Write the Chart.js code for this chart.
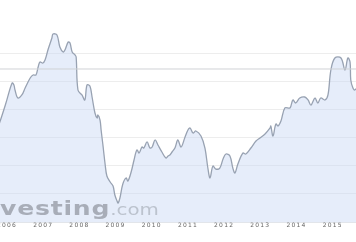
<!DOCTYPE html>
<html>
<head>
<meta charset="utf-8">
<script src="https://cdn.jsdelivr.net/npm/chart.js@4.4.1/dist/chart.umd.min.js"></script>
<style>
    html, body { margin: 0; padding: 0; background: #fff; }
    #box { position: relative; width: 356px; height: 242px; overflow: hidden; background: #fff; }
    #wrap { position: absolute; left: -40px; top: 0; width: 436px; height: 242px; }
    #mark {
        position: absolute; left: 0; top: 199px; white-space: nowrap;
        transform: scaleX(1.32); transform-origin: 0 0;
        font-family: "DejaVu Sans", sans-serif; line-height: 1; pointer-events: none;
    }
    #mark b { font-size: 19px; font-weight: bold; color: rgba(150, 155, 165, 0.78); letter-spacing: 0.6px; }
    #mark span { font-size: 15px; color: rgba(170, 176, 186, 0.7); }
</style>
</head>
<body>
<div id="box">
    <div id="wrap"><canvas id="chart" width="436" height="242"></canvas></div>
    <div id="mark"><b>vesting</b><span>.com</span></div>
</div>
<script>
// Index level (decimal years)
const years = [2005.67, 2005.81, 2005.97, 2006.14, 2006.19, 2006.22, 2006.30, 2006.41, 2006.50, 2006.64,
    2006.72, 2006.80, 2006.86, 2006.91, 2006.99, 2007.05, 2007.13, 2007.24, 2007.27, 2007.38,
    2007.46, 2007.55, 2007.60, 2007.69, 2007.74, 2007.80, 2007.88, 2007.91, 2007.96, 2008.07,
    2008.15, 2008.21, 2008.29, 2008.35, 2008.43, 2008.49, 2008.51, 2008.57, 2008.60, 2008.65,
    2008.71, 2008.76, 2008.85, 2008.93, 2008.98, 2009.04, 2009.07, 2009.12, 2009.20, 2009.29,
    2009.34, 2009.43, 2009.51, 2009.59, 2009.65, 2009.73, 2009.78, 2009.87, 2009.95, 2010.01,
    2010.09, 2010.17, 2010.28, 2010.39, 2010.45, 2010.50, 2010.56, 2010.64, 2010.72, 2010.81,
    2010.92, 2011.00, 2011.06, 2011.14, 2011.22, 2011.36, 2011.47, 2011.55, 2011.61, 2011.69,
    2011.77, 2011.88, 2011.97, 2012.05, 2012.16, 2012.24, 2012.30, 2012.38, 2012.52, 2012.60,
    2012.74, 2012.88, 2012.99, 2013.13, 2013.27, 2013.29, 2013.35, 2013.43, 2013.49, 2013.57,
    2013.68, 2013.82, 2013.90, 2013.98, 2014.09, 2014.23, 2014.32, 2014.40, 2014.51, 2014.59,
    2014.67, 2014.79, 2014.87, 2014.95, 2015.06, 2015.23, 2015.34, 2015.42, 2015.48, 2015.50,
    2015.56, 2015.61, 2015.70, 2015.81];
const values = [3054, 3304, 3625, 3982, 3946, 3857, 3714, 3768, 3893, 4071,
    4125, 4125, 4268, 4357, 4339, 4393, 4571, 4786, 4857, 4839,
    4625, 4536, 4571, 4714, 4696, 4536, 4482, 4446, 3857, 3768,
    3679, 3946, 3929, 3732, 3446, 3357, 3411, 3321, 3143, 2875,
    2536, 2321, 2214, 2143, 1982, 1875, 1839, 1929, 2179, 2286,
    2232, 2393, 2607, 2786, 2732, 2839, 2821, 2929, 2821, 2839,
    2964, 2875, 2750, 2643, 2679, 2696, 2750, 2821, 2964, 2839,
    3018, 3143, 3179, 3089, 3125, 3036, 2821, 2464, 2286, 2500,
    2446, 2464, 2625, 2714, 2679, 2464, 2375, 2536, 2732, 2714,
    2821, 2946, 3000, 3071, 3179, 3214, 3036, 3250, 3214, 3304,
    3536, 3536, 3679, 3625, 3714, 3732, 3679, 3589, 3714, 3625,
    3714, 3679, 3768, 4214, 4429, 4429, 4214, 4429, 4357, 4036,
    3893, 3857, 3929, 4036];
const tickYears = [2006, 2007, 2008, 2009, 2010, 2011, 2012, 2013, 2014, 2015];
const gridValues = [1500, 2000, 2500, 3000, 3500, 4000, 4500];
const refLevel = 4232;

const xMin = 2004.70, xMax = 2016.75;
const yMin = 1500, yMax = 5464;

const points = years.map((x, i) => ({ x: x, y: values[i] }));

new Chart(document.getElementById('chart'), {
    type: 'line',
    data: {
        datasets: [{
            data: points,
            borderColor: '#98a2b2',
            borderWidth: 1.3,
            backgroundColor: 'rgba(200, 216, 244, 0.45)',
            fill: 'start',
            tension: 0.35,
            pointRadius: 0,
            order: 1
        }, {
            data: [{ x: xMin, y: refLevel }, { x: xMax, y: refLevel }],
            borderColor: '#d0d2d6',
            borderWidth: 1,
            pointRadius: 0,
            fill: false,
            order: 0
        }]
    },
    options: {
        responsive: false,
        animation: false,
        devicePixelRatio: 1,
        layout: { padding: 0 },
        plugins: { legend: { display: false }, tooltip: { enabled: false } },
        scales: {
            x: {
                type: 'linear',
                min: xMin,
                max: xMax,
                afterBuildTicks: s => { s.ticks = tickYears.map(v => ({ value: v })); },
                afterFit: s => { s.height = 20; },
                grid: { display: false, drawTicks: false },
                border: { display: true, color: '#e2e5ea' },
                ticks: {
                    padding: 0,
                    color: '#666',
                    maxRotation: 0,
                    autoSkip: false,
                    font: { family: 'DejaVu Sans', size: 6 },
                    callback: v => String(v)
                }
            },
            y: {
                min: yMin,
                max: yMax,
                z: 1,
                afterBuildTicks: s => { s.ticks = gridValues.map(v => ({ value: v })); },
                afterFit: s => { s.width = 0; },
                grid: { color: '#ededed', drawTicks: false },
                border: { display: false },
                ticks: { display: false }
            }
        }
    },
    plugins: [{
        id: 'spacing',
        beforeDraw: c => { c.ctx.letterSpacing = '1.2px'; }
    }]
});
</script>
</body>
</html>
